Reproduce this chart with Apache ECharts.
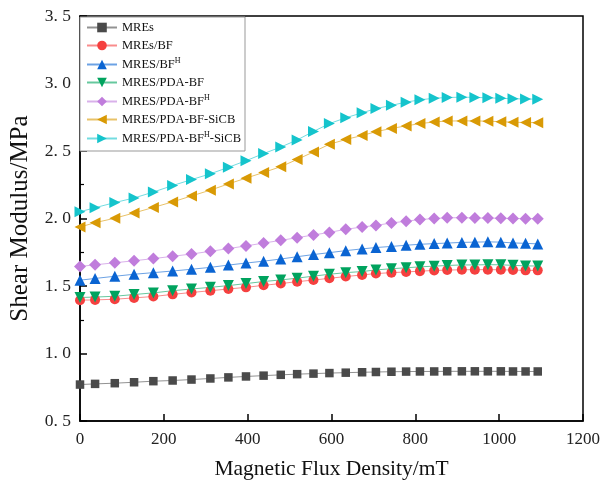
<!DOCTYPE html>
<html>
<head>
<meta charset="utf-8">
<script src="https://cdn.jsdelivr.net/npm/echarts@6/dist/echarts.min.js"></script>
<style>html,body{margin:0;padding:0;background:#fff;}#c{width:603px;height:485px;}</style>
</head>
<body>
<div id="c"></div>
<script>
var fluxDensity = [0, 36, 83, 129, 175, 221, 266, 311, 354, 396, 438, 479, 518, 557, 595, 634, 673, 706, 743, 778, 811, 845, 876, 911, 942, 973, 1004, 1033, 1063, 1092];
var seriesNames = ['MREs', 'MREs/BF', 'MRES/BF^H', 'MRES/PDA-BF', 'MRES/PDA-BF^H', 'MRES/PDA-BF-SiCB', 'MRES/PDA-BF^H-SiCB'];
var mres = [0.77,0.775,0.78,0.787,0.795,0.80,0.807,0.815,0.823,0.83,0.836,0.842,0.847,0.851,0.855,0.858,0.861,0.863,0.865,0.866,0.867,0.867,0.868,0.868,0.868,0.868,0.868,0.867,0.867,0.867];
var mresBF = [1.395,1.397,1.402,1.412,1.422,1.438,1.452,1.465,1.478,1.490,1.505,1.518,1.532,1.544,1.557,1.570,1.582,1.592,1.599,1.604,1.610,1.615,1.618,1.620,1.621,1.621,1.620,1.618,1.616,1.616];
var mresBFH = [1.543,1.556,1.572,1.587,1.599,1.611,1.624,1.638,1.655,1.670,1.684,1.700,1.717,1.733,1.747,1.762,1.775,1.785,1.793,1.802,1.809,1.814,1.818,1.823,1.825,1.827,1.825,1.819,1.816,1.812];
var mresPdaBF = [1.415,1.418,1.424,1.437,1.449,1.465,1.478,1.490,1.503,1.518,1.533,1.545,1.558,1.573,1.587,1.599,1.607,1.619,1.628,1.635,1.642,1.647,1.652,1.656,1.656,1.658,1.657,1.653,1.649,1.648];
var mresPdaBFH = [1.645,1.657,1.672,1.687,1.703,1.72,1.737,1.757,1.777,1.797,1.818,1.838,1.858,1.878,1.897,1.92,1.937,1.949,1.967,1.98,1.992,2.0,2.005,2.006,2.004,2.003,2.002,2.0,1.999,1.999];
var mresPdaBFSiCB = [1.937,1.969,2.002,2.041,2.082,2.123,2.167,2.210,2.256,2.299,2.341,2.384,2.437,2.493,2.55,2.585,2.615,2.643,2.667,2.686,2.703,2.715,2.722,2.723,2.723,2.721,2.717,2.713,2.711,2.71];
var mresPdaBFHSiCB = [2.05,2.08,2.118,2.152,2.196,2.244,2.288,2.331,2.379,2.428,2.481,2.529,2.582,2.645,2.703,2.746,2.783,2.814,2.838,2.862,2.879,2.891,2.896,2.899,2.897,2.894,2.89,2.887,2.885,2.884];
var yTicks = [0.5, 1.0, 1.5, 2.0, 2.5, 3.0, 3.5];
var xTicks = [0, 200, 400, 600, 800, 1000, 1200];

var allValues = [mres, mresBF, mresBFH, mresPdaBF, mresPdaBFH, mresPdaBFSiCB, mresPdaBFHSiCB];
var styles = [
  {color:'#4a4a4a', symbol:'rect', rot:0, size:8.5},
  {color:'#f5403f', symbol:'circle', rot:0, size:10},
  {color:'#0a64d2', symbol:'triangle', rot:0, size:11},
  {color:'#00a35e', symbol:'triangle', rot:180, size:11},
  {color:'#c07ddc', symbol:'diamond', rot:0, size:12},
  {color:'#d99a05', symbol:'triangle', rot:90, size:11},
  {color:'#15c4cc', symbol:'triangle', rot:-90, size:11}
];
var font = '"Liberation Serif", "DejaVu Serif", serif';
var series = seriesNames.map(function(n, i){
  return {
    name: n, type: 'line',
    data: fluxDensity.map(function(x, j){ return [x, allValues[i][j]]; }),
    symbol: styles[i].symbol, symbolRotate: styles[i].rot, symbolSize: styles[i].size,
    itemStyle: {color: styles[i].color},
    lineStyle: {color: styles[i].color, width: 1, opacity: 0.6},
    emphasis: {disabled: true},
    animation: false
  };
});
var chart = echarts.init(document.getElementById('c'), null, {renderer:'canvas'});
chart.setOption({
  backgroundColor: '#fff',
  animation: false,
  grid: {left: 72, right: 16, top: 16, bottom: 55, show: true, borderColor: '#000', borderWidth: 1.5, backgroundColor: 'transparent'},
  legend: {
    orient: 'vertical', left: 80, top: 17,
    padding: [4, 4, 6, 6], itemGap: 5, itemWidth: 30, itemHeight: 12,
    borderColor: '#999', borderWidth: 1, backgroundColor: '#fff',
    data: seriesNames,
    formatter: function(n){ return n.replace('^H', '{sup|H}'); },
    textStyle: {fontFamily: font, fontSize: 12.5, color: '#111',
      rich: {sup: {fontFamily: font, fontSize: 8, verticalAlign: 'top', padding: [0,0,7,0], color:'#111'}}}
  },
  xAxis: {
    type: 'value', min: 0, max: 1200, interval: 200,
    name: 'Magnetic Flux Density/mT', nameLocation: 'middle', nameGap: 37,
    nameTextStyle: {fontFamily: font, fontSize: 21.5, color: '#111'},
    axisLine: {show: true, lineStyle: {color: '#000', width: 1.5}},
    axisTick: {show: true, inside: true, length: 7, lineStyle: {color: '#000', width: 1.5}},
    axisLabel: {fontFamily: font, fontSize: 17, color: '#222', margin: 10,
      formatter: function(v){ return xTicks.indexOf(v) >= 0 ? String(v) : ''; }},
    splitLine: {show: false}
  },
  yAxis: {
    type: 'value', min: 0.5, max: 3.5, interval: 0.5,
    name: 'Shear Modulus/MPa', nameLocation: 'middle', nameGap: 47, nameRotate: 90,
    nameTextStyle: {fontFamily: font, fontSize: 25, color: '#111'},
    axisLine: {show: true, lineStyle: {color: '#000', width: 1.5}},
    axisTick: {show: true, inside: true, length: 7, lineStyle: {color: '#000', width: 1.5}},
    minorTick: {show: true, splitNumber: 2, length: 4, lineStyle: {color: '#000', width: 1.2}},
    axisLabel: {fontFamily: font, fontSize: 17.5, color: '#222', margin: 9,
      formatter: function(v){ var t = yTicks.find(function(k){ return Math.abs(k - v) < 1e-9; }); return t === undefined ? '' : t.toFixed(1).replace('.', '. '); }},
    splitLine: {show: false}
  },
  series: series
});
</script>
</body>
</html>
